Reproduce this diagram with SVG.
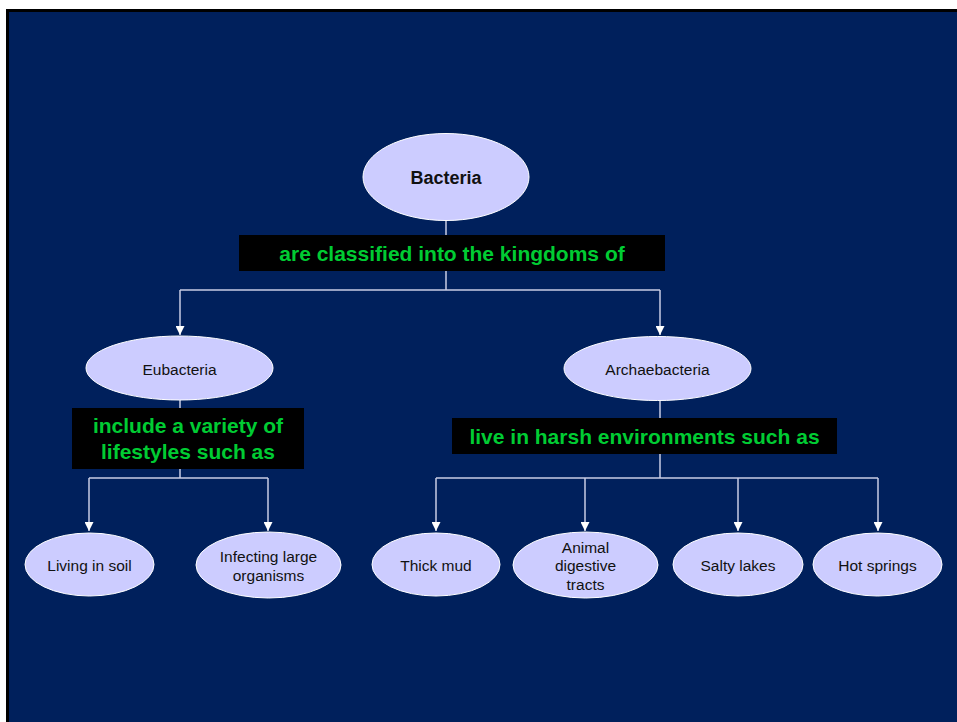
<svg xmlns="http://www.w3.org/2000/svg" width="957" height="722" viewBox="0 0 957 722">
<defs>
<style>
.node{fill:#ccccff;stroke:#ffffff;stroke-width:1}
.t{font-family:"Liberation Sans",Arial,sans-serif;font-size:15.5px;fill:#111111;text-anchor:middle}
.tb{font-family:"Liberation Sans",Arial,sans-serif;font-size:18px;font-weight:bold;fill:#111111;text-anchor:middle}
.lbox{fill:#000000}
.lt{font-family:"Liberation Sans",Arial,sans-serif;font-size:21px;font-weight:bold;fill:#00cc33;text-anchor:middle}
.c{fill:none;stroke:#c8cce4;stroke-width:1.5}
</style>
<marker id="ah" viewBox="0 0 10 10" refX="10" refY="5" markerWidth="9" markerHeight="9" markerUnits="userSpaceOnUse" orient="auto">
<path d="M0,0 L10,5 L0,10 Z" fill="#ffffff"/>
</marker>
</defs>
<rect x="0" y="0" width="957" height="722" fill="#ffffff"/>
<rect x="6" y="9" width="951" height="713" fill="#000000"/>
<rect x="9" y="12" width="948" height="710" fill="#00205c"/>
<g id="connectors">
<line class="c" x1="446" y1="220" x2="446" y2="235"/>
<path class="c" d="M446,271 V290"/>
<path class="c" d="M180,290 H660"/>
<line class="c" x1="180" y1="290" x2="180" y2="335" marker-end="url(#ah)"/>
<line class="c" x1="660" y1="290" x2="660" y2="335" marker-end="url(#ah)"/>
<line class="c" x1="180" y1="400" x2="180" y2="408"/>
<path class="c" d="M180,469 V478"/>
<path class="c" d="M89,478 H268"/>
<line class="c" x1="89" y1="478" x2="89" y2="531" marker-end="url(#ah)"/>
<line class="c" x1="268" y1="478" x2="268" y2="531" marker-end="url(#ah)"/>
<line class="c" x1="660" y1="401" x2="660" y2="418"/>
<path class="c" d="M660,454 V478"/>
<path class="c" d="M436,478 H878"/>
<line class="c" x1="436" y1="478" x2="436" y2="531" marker-end="url(#ah)"/>
<line class="c" x1="585" y1="478" x2="585" y2="531" marker-end="url(#ah)"/>
<line class="c" x1="738" y1="478" x2="738" y2="531" marker-end="url(#ah)"/>
<line class="c" x1="878" y1="478" x2="878" y2="531" marker-end="url(#ah)"/>
</g>
<g id="bacteria">
<ellipse class="node" cx="446" cy="177" rx="83" ry="43.5"/>
<text class="tb" x="446" y="184">Bacteria</text>
</g>
<g id="label-classified">
<rect class="lbox" x="239" y="235" width="426" height="36"/>
<text class="lt" x="452" y="260.5">are classified into the kingdoms of</text>
</g>
<g id="eubacteria">
<ellipse class="node" cx="179.5" cy="368" rx="93.5" ry="32"/>
<text class="t" x="179.5" y="374.5">Eubacteria</text>
</g>
<g id="archaebacteria">
<ellipse class="node" cx="657.5" cy="368.5" rx="93.5" ry="32"/>
<text class="t" x="657.5" y="375">Archaebacteria</text>
</g>
<g id="label-lifestyles">
<rect class="lbox" x="72" y="408" width="232" height="61"/>
<text class="lt" x="188" y="433">include a variety of</text>
<text class="lt" x="188" y="459">lifestyles such as</text>
</g>
<g id="label-harsh">
<rect class="lbox" x="452" y="418" width="385" height="36"/>
<text class="lt" x="644.5" y="443.5">live in harsh environments such as</text>
</g>
<g id="living-in-soil">
<ellipse class="node" cx="89.5" cy="564.5" rx="64.5" ry="31.5"/>
<text class="t" x="89.5" y="571">Living in soil</text>
</g>
<g id="infecting">
<ellipse class="node" cx="268.5" cy="565" rx="72.5" ry="33"/>
<text class="t" x="268.5" y="562">Infecting large</text>
<text class="t" x="268.5" y="580.5">organisms</text>
</g>
<g id="thick-mud">
<ellipse class="node" cx="436" cy="564.5" rx="64" ry="31.5"/>
<text class="t" x="436" y="571">Thick mud</text>
</g>
<g id="animal-digestive">
<ellipse class="node" cx="585.5" cy="565" rx="72.5" ry="33"/>
<text class="t" x="585.5" y="552.5">Animal</text>
<text class="t" x="585.5" y="571">digestive</text>
<text class="t" x="585.5" y="589.5">tracts</text>
</g>
<g id="salty-lakes">
<ellipse class="node" cx="738" cy="564.5" rx="65" ry="31.5"/>
<text class="t" x="738" y="571">Salty lakes</text>
</g>
<g id="hot-springs">
<ellipse class="node" cx="877.5" cy="564.5" rx="64.5" ry="31.5"/>
<text class="t" x="877.5" y="571">Hot springs</text>
</g>
</svg>
